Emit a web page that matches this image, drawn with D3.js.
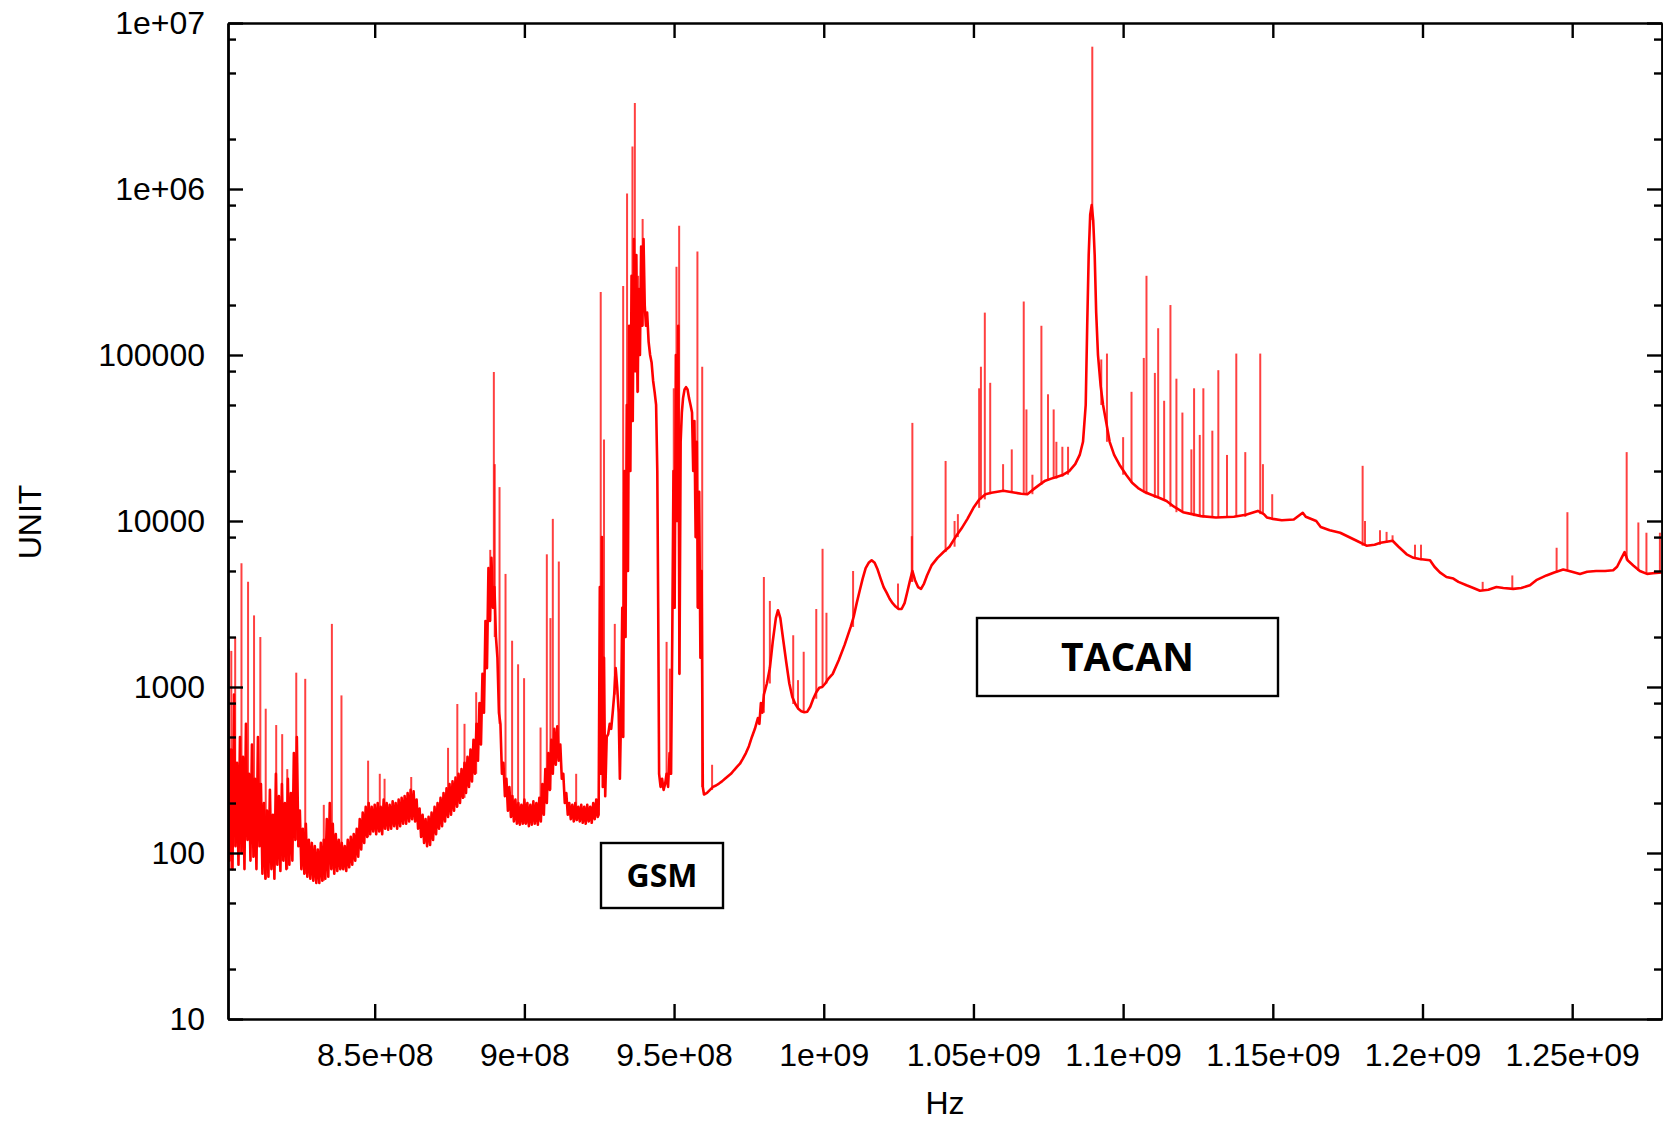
<!DOCTYPE html>
<html>
<head>
<meta charset="utf-8">
<script src="https://cdn.jsdelivr.net/npm/d3@7"></script>
<style>
  body { margin: 0; background: #fff; }
  svg { display: block; }
  .axis text { font-family: "Liberation Sans", Arial, sans-serif; font-size: 32px; fill: #000; }
  .axis path, .axis line { stroke: #000; stroke-width: 2.4; }
  .title { font-family: "Liberation Sans", Arial, sans-serif; font-size: 32px; fill: #000; }
  .note { font-family: "Open Sans", sans-serif; font-weight: 700; fill: #000; }
</style>
</head>
<body>
<div id="chart"></div>
<script>
// x in MHz, levels in UNIT
var xTicks = [850, 900, 950, 1000, 1050, 1100, 1150, 1200, 1250];
var xTickLabels = ["8.5e+08", "9e+08", "9.5e+08", "1e+09", "1.05e+09", "1.1e+09", "1.15e+09", "1.2e+09", "1.25e+09"];
var yTicks = [10, 100, 1000, 10000, 100000, 1e6, 1e7];
var yTickLabels = ["10", "100", "1000", "10000", "100000", "1e+06", "1e+07"];
var yMinor = [20, 50, 80, 200, 500, 800, 2000, 5000, 8000, 2e4, 5e4, 8e4, 2e5, 5e5, 8e5, 2e6, 5e6, 8e6];

// noisy floor below the GSM band, sampled every 0.5 MHz from 801 MHz
var bandStart = 801, bandStep = 0.5;
var bandLevel = [
  700,90, 420,80, 900,110, 350,85, 500,100, 380,80, 600,120, 300,90, 450,95, 280,80,
  500,110, 260,75, 200,70, 180,72, 240,80, 170,70, 300,85, 220,78, 260,90, 200,80,
  280,85, 230,90, 400,120, 500,110, 180,80, 140,75, 150,72, 120,70, 115,68, 110,66,
  105,66, 115,68, 120,70, 160,72, 200,80, 150,75, 130,78, 120,80, 115,80, 110,78,
  120,82, 125,85, 130,90, 140,95, 160,105, 175,115, 190,125, 200,130, 190,135, 195,130,
  200,135, 190,130, 210,140, 200,138, 195,140, 205,145, 200,140, 210,145, 215,150, 220,150,
  230,155, 240,160, 235,155, 210,140, 185,125, 170,115, 160,110, 165,112, 175,120, 190,130,
  200,140, 215,145, 230,155, 245,165, 260,170, 270,180, 285,190, 300,200, 320,215, 350,230,
  380,250, 420,270, 480,300, 600,360, 800,450, 1200,700, 2500,1300, 5200,2500, 6000,3000, 4000,2000,
  1500,700, 600,300, 350,220, 280,180, 250,165, 220,155, 210,150, 200,148, 195,150, 210,150,
  200,145, 195,148, 205,150, 200,148, 215,155, 260,170, 320,200, 400,240, 480,300, 560,340,
  580,360, 450,280, 300,200, 230,170, 200,160, 195,155, 200,158, 190,155, 195,152, 190,150,
  195,155, 190,152, 200,160, 210,165
];

// floor from the GSM band up to the end of the sweep
var floorFreq = [
  924.8, 925.2, 925.5, 925.9, 926.2, 926.6, 927.0, 927.5, 928.0, 928.5, 929.0, 929.5, 930.0, 930.5, 931.0, 931.5, 931.9,
  932.3, 932.7, 933.0, 933.4, 933.8, 934.2, 934.6, 935.0, 935.4, 935.8, 936.2, 936.6, 937.0, 937.4, 937.8, 938.2, 938.6,
  939.0, 939.4, 939.8, 940.2, 940.6, 941.0, 941.5, 942.0, 942.5, 943.0, 943.5, 944.0, 944.4, 944.7, 945.0, 945.5, 946.0,
  946.5, 947.0, 947.5, 948.0, 948.5, 949.0, 949.4, 949.8, 950.2, 950.6, 951.0, 951.4, 951.8, 952.2, 952.6, 953.0, 953.5,
  954.0, 954.5, 955.0, 955.5, 956.0, 956.4, 956.8, 957.2, 957.6, 958.0, 958.4, 958.8, 959.2, 959.6, 960.0,
  961, 962, 963, 964, 965, 966, 967, 968, 969, 970, 971, 972, 973, 974, 975, 976, 977, 978, 978.5, 979, 979.5, 980,
  981, 982, 983, 984, 984.7, 985.5, 986.5, 987.5, 988.5, 989.5, 990.5, 991.5, 992.5, 993.5, 994.5, 995.5, 996.5, 997.5,
  998.5, 999.5, 1000.5, 1001.5, 1003, 1005, 1007, 1009, 1010, 1011, 1012, 1013, 1014, 1015, 1016, 1017, 1018, 1019,
  1020, 1021, 1022, 1023, 1024, 1025, 1026, 1027, 1028, 1028.7, 1029.6, 1030.5, 1031.5, 1032.5, 1033.5, 1034.5, 1036,
  1038, 1040, 1042, 1044, 1046, 1048, 1050, 1052, 1054, 1056, 1058, 1060, 1062, 1064, 1066, 1068, 1070, 1072, 1074,
  1076, 1078, 1080, 1082, 1084, 1085.5, 1086.6, 1087.5, 1088.0, 1088.5, 1089.0, 1089.5, 1090.0, 1090.5, 1091.0, 1091.6,
  1092.5, 1093.3, 1094.5, 1095.5, 1097, 1099, 1101, 1103, 1105, 1107, 1109, 1112, 1114.5, 1117, 1120, 1123, 1126, 1131,
  1137, 1141, 1145, 1147, 1148, 1150, 1153, 1157, 1160, 1161, 1164.5, 1166, 1169, 1172.5, 1178, 1181.3, 1184, 1186, 1188,
  1190, 1192, 1194.7, 1197, 1199, 1202.5, 1204, 1205.8, 1208, 1210.3, 1212, 1214.7, 1217, 1219.2, 1222, 1224.7, 1227,
  1230.3, 1233, 1235.9, 1238, 1241.4, 1244, 1247, 1249, 1252.6, 1255, 1258, 1261, 1263.7, 1265, 1266.5, 1267.5, 1268.5,
  1270.4, 1272.6, 1275, 1277, 1280
];
var floorLevel = [
  170, 4000, 300, 8000, 250, 1500, 220, 500, 520, 600, 560, 700, 900, 1300, 1000, 700, 280,
  700, 3000, 500, 20000, 2000, 50000, 5000, 150000, 20000, 300000, 40000, 500000, 80000, 400000, 60000, 250000, 100000,
  450000, 150000, 500000, 200000, 150000, 180000, 120000, 100000, 90000, 70000, 60000, 50000, 20000, 3000, 300, 250, 280,
  240, 260, 300, 250, 400, 300, 2000, 20000, 3000, 100000, 10000, 150000, 1200, 30000, 45000, 55000, 62000,
  64000, 62000, 55000, 50000, 45000, 20000, 40000, 8000, 30000, 3000, 15000, 1500, 5000, 250, 225,
  230, 240, 250, 255, 262, 270, 280, 290, 300, 315, 330, 345, 370, 400, 440, 500, 560, 650, 600, 800, 700, 900,
  1050, 1300, 1900, 2600, 2900, 2600, 1900, 1400, 1050, 870, 790, 740, 715, 705, 710, 760, 850, 930,
  990, 1000, 1050, 1120, 1200, 1450, 1800, 2300, 2650, 3200, 3800, 4500, 5200, 5600, 5800, 5600, 5100, 4500,
  4000, 3700, 3400, 3200, 3050, 2950, 2950, 3200, 3800, 4300, 5000, 4400, 4000, 3900, 4200, 4700, 5400,
  6000, 6500, 7000, 8000, 9000, 10300, 12000, 13500, 14500, 14800, 15000, 15200, 15000, 14800, 14600, 14500, 15500, 16500, 17500,
  18000, 18500, 19000, 20000, 22000, 25000, 30000, 50000, 150000, 400000, 700000, 800000, 650000, 400000, 180000, 100000,
  65000, 50000, 38000, 30000, 25000, 21500, 19000, 17000, 15800, 15000, 14500, 13800, 13200, 12200, 11300, 11000, 10700, 10500,
  10600, 10900, 11500, 11000, 10500, 10300, 10100, 10200, 11200, 10600, 10000, 9200, 8800, 8500, 7600, 7100, 7200, 7400, 7500,
  7600, 7000, 6300, 6000, 5900, 5800, 5300, 4900, 4600, 4500, 4300, 4100, 3950, 3800, 3850, 4000, 3950,
  3900, 3950, 4100, 4400, 4700, 4900, 5100, 5000, 4800, 4950, 5000, 5000, 5050, 5300, 6000, 6500, 5800,
  5400, 5000, 4800, 4850, 4900
];

// narrow carriers (MHz, peak level)
var spikeFreq = [
  801.2, 802.1, 803.4, 805.5, 807.7, 809.7, 811.8, 813.6, 817.1, 819.1, 820.8, 823.8, 826.8, 833.0, 835.7, 838.9,
  847.8, 851.7, 853.3, 862.2, 874.5, 877.6, 880.0, 883.9, 888.6, 889.8, 890.1, 891.7, 893.7, 895.9, 897.9, 899.9,
  905.4, 907.5, 908.7, 909.5, 911.5, 917.3,
  925.5, 926.6, 930.2, 933.0, 934.3, 936.1, 936.9, 938.0, 939.5, 947.5, 948.6, 949.9, 950.8, 951.7, 957.8, 959.4,
  962.7, 980.0, 982.0, 989.8, 991.4, 993.3, 997.5, 999.6, 1000.9, 1009.8, 1024.8, 1029.4, 1029.6, 1040.7, 1043.7,
  1044.8, 1051.9, 1052.5, 1053.8, 1055.6, 1059.9, 1062.8, 1066.8, 1067.7, 1069.7, 1072.7, 1074.9, 1076.8, 1077.7,
  1079.7, 1081.6, 1089.7, 1092.7, 1094.6, 1100.0, 1102.8, 1106.9, 1107.8, 1110.6, 1111.7, 1113.7, 1115.8, 1117.8,
  1119.8, 1122.8, 1123.7, 1125.6, 1126.8, 1129.8, 1131.8, 1134.7, 1137.8, 1140.8, 1145.8, 1146.7, 1149.8,
  1180.0, 1180.8, 1185.8, 1188.0, 1190.0, 1197.5, 1199.5, 1220.1, 1230.0, 1244.8, 1248.4, 1268.2, 1272.1, 1274.8, 1279.3
];
var spikeLevel = [
  1700, 1650, 2000, 5560, 4300, 2700, 2000, 740, 590, 520, 320, 1220, 1120, 195, 2400, 890,
  360, 300, 280, 287, 430, 790, 600, 930, 6700, 79000, 22000, 16000, 4800, 1900, 1370, 1130,
  570, 6300, 2600, 10300, 5700, 300,
  240000, 31000, 2400, 260000, 940000, 1800000, 3300000, 300000, 660000, 1870, 1290, 63000, 340000, 600000, 420000, 85000,
  340, 4600, 3300, 2050, 1100, 1630, 2950, 6800, 2800, 5000, 4200, 8100, 39000, 23000, 10000,
  11000, 63000, 85000, 180000, 68000, 22000, 27000, 210000, 47000, 19000, 150000, 58000, 47000, 30000,
  28000, 28000, 7200000, 94000, 102000, 32000, 60000, 96000, 300000, 78000, 145000, 53000, 200000, 72000,
  45000, 27000, 63000, 33000, 63000, 35000, 81000, 25000, 102000, 26000, 102000, 22000, 14500,
  21500, 10000, 8800, 8600, 8200, 7200, 7200, 4300, 4700, 6900, 11300, 26000, 9800, 8500, 8500
];

var svgWidth = 1663, svgHeight = 1125;
var margin = { top: 23, left: 228, right: 1, bottom: 106 };
var width = svgWidth - margin.left - margin.right;
var height = svgHeight - margin.top - margin.bottom;

var svg = d3.select("#chart").append("svg")
  .attr("width", svgWidth)
  .attr("height", svgHeight);

var chartGroup = svg.append("g")
  .attr("transform", `translate(${margin.left}, ${margin.top})`);

var xScale = d3.scaleLinear().domain([801, 1280]).range([0, width]);
var yScale = d3.scaleLog().domain([10, 1e7]).range([height, 0]);

// assemble floor points
var floorPts = bandLevel.map((v, i) => [bandStart + i * bandStep, v])
  .concat(floorFreq.map((f, i) => [f, floorLevel[i]]));

chartGroup.append("clipPath").attr("id", "plotclip")
  .append("rect").attr("width", width).attr("height", height);

var plot = chartGroup.append("g").attr("clip-path", "url(#plotclip)");

var line = d3.line()
  .x(d => xScale(d[0]))
  .y(d => yScale(d[1]));

// spikes stand on the nearest floor sample
var bis = d3.bisector(d => d[0]).left;
var spikes = spikeFreq.map((f, i) => {
  var j = Math.min(Math.max(bis(floorPts, f), 1), floorPts.length - 1);
  var base = Math.min(floorPts[j - 1][1], floorPts[j][1]);
  return { f: f, base: base, peak: spikeLevel[i] };
});

plot.append("g").selectAll("line")
  .data(spikes)
  .enter()
  .append("line")
  .attr("x1", d => xScale(d.f))
  .attr("x2", d => xScale(d.f))
  .attr("y1", d => yScale(d.base))
  .attr("y2", d => yScale(d.peak))
  .attr("stroke", "#ff0000")
  .attr("stroke-width", 2)
  .attr("stroke-opacity", 0.75);

plot.append("path")
  .datum(floorPts)
  .attr("d", line)
  .attr("fill", "none")
  .attr("stroke", "#ff0000")
  .attr("stroke-width", 2.6)
  .attr("stroke-linejoin", "round");

// axes, ticks pointing inward
chartGroup.append("g").attr("class", "axis")
  .attr("transform", `translate(0, ${height})`)
  .call(d3.axisBottom(xScale).tickValues(xTicks).tickSize(-15).tickSizeOuter(0).tickPadding(24)
    .tickFormat((d, i) => xTickLabels[i]));

chartGroup.append("g").attr("class", "axis")
  .call(d3.axisTop(xScale).tickValues(xTicks).tickSize(-15).tickSizeOuter(0).tickFormat(""));

chartGroup.append("g").attr("class", "axis")
  .call(d3.axisLeft(yScale).tickValues(yTicks).tickSize(-15).tickSizeOuter(0).tickPadding(23)
    .tickFormat((d, i) => yTickLabels[i]));

chartGroup.append("g").attr("class", "axis")
  .call(d3.axisLeft(yScale).tickValues(yMinor).tickSize(-8).tickSizeOuter(0).tickFormat(""));

chartGroup.append("g").attr("class", "axis")
  .attr("transform", `translate(${width}, 0)`)
  .call(d3.axisRight(yScale).tickValues(yTicks).tickSize(-15).tickSizeOuter(0).tickFormat(""));

chartGroup.append("g").attr("class", "axis")
  .attr("transform", `translate(${width}, 0)`)
  .call(d3.axisRight(yScale).tickValues(yMinor).tickSize(-8).tickSizeOuter(0).tickFormat(""));

// axis titles
svg.append("text").attr("class", "title")
  .attr("x", margin.left + width / 2)
  .attr("y", 1103)
  .attr("text-anchor", "middle")
  .attr("dy", "0.35em")
  .text("Hz");

svg.append("text").attr("class", "title")
  .attr("transform", "translate(30, 522) rotate(-90)")
  .attr("text-anchor", "middle")
  .attr("dy", "0.35em")
  .text("UNIT");

// band annotations
var notes = [
  { text: "GSM", x: 601, y: 843, w: 122, h: 65, size: 32 },
  { text: "TACAN", x: 977, y: 618, w: 301, h: 78, size: 39 }
];
notes.forEach(n => {
  svg.append("rect")
    .attr("x", n.x).attr("y", n.y)
    .attr("width", n.w).attr("height", n.h)
    .attr("fill", "#fff")
    .attr("stroke", "#000")
    .attr("stroke-width", 2.4);
  svg.append("text").attr("class", "note")
    .attr("x", n.x + n.w / 2)
    .attr("y", n.y + n.h / 2)
    .attr("text-anchor", "middle")
    .attr("dy", "0.36em")
    .style("font-size", n.size + "px")
    .text(n.text);
});
</script>
</body>
</html>
